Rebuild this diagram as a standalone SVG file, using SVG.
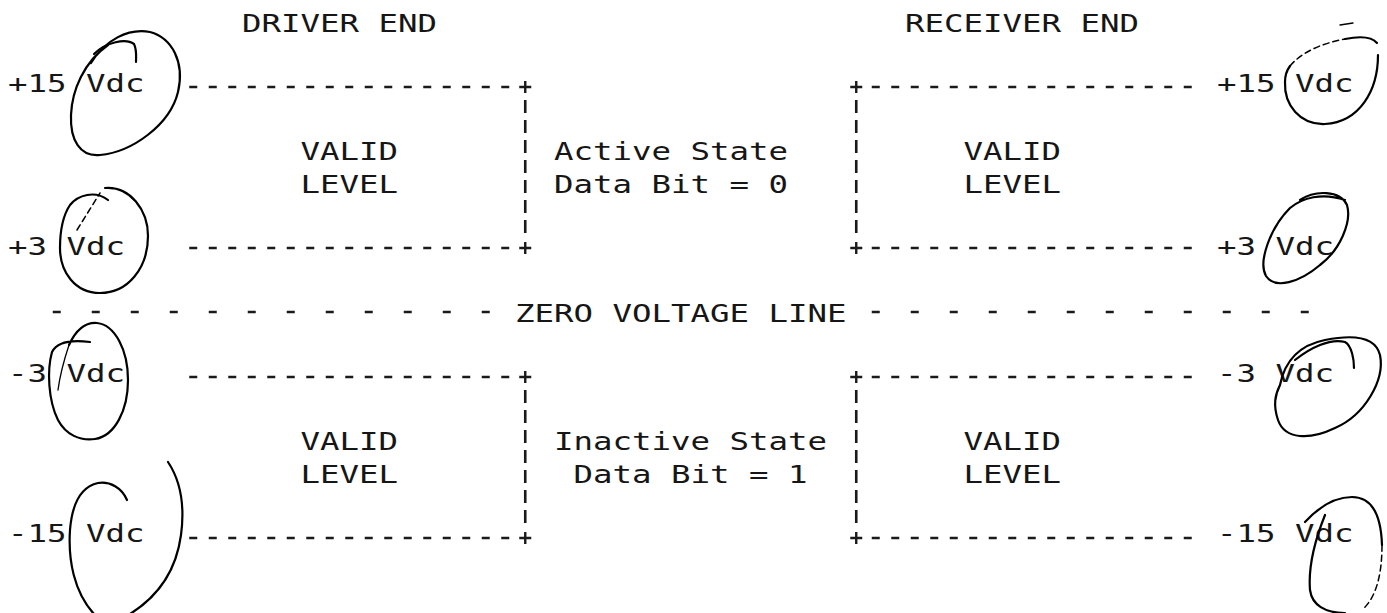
<svg xmlns="http://www.w3.org/2000/svg" width="1387" height="613" viewBox="0 0 1387 613">
<style>
  text { font-family: "DejaVu Sans Mono", "Liberation Mono", monospace; font-size: 25px; fill: #161616; }
  .dash { stroke: #1a1a1a; stroke-width: 2.6; stroke-dasharray: 8 11.5; fill: none; }
  .zero { stroke: #1a1a1a; stroke-width: 2.6; stroke-dasharray: 8 31; fill: none; }
  .vbar { stroke: #1a1a1a; stroke-width: 2.6; stroke-dasharray: 13 7; fill: none; }
  .plus { stroke: #1a1a1a; stroke-width: 2.4; fill: none; }
  .pen { stroke: #000; stroke-width: 2.2; fill: none; stroke-linecap: round; stroke-linejoin: round; }
  .pen-thin { stroke: #000; stroke-width: 1.3; fill: none; stroke-linecap: round; }
  .pen-dash { stroke: #000; stroke-width: 1.5; fill: none; stroke-dasharray: 6 4; stroke-linecap: round; }
</style>
<rect width="1387" height="613" fill="#ffffff"/>

<g id="headers">
  <text x="242" y="32" textLength="195" lengthAdjust="spacingAndGlyphs">DRIVER END</text>
  <text x="905" y="32" textLength="234" lengthAdjust="spacingAndGlyphs">RECEIVER END</text>
</g>

<g id="driver-scale">
  <text x="8" y="92" textLength="58.5" lengthAdjust="spacingAndGlyphs">+15</text>
  <text x="86" y="92" textLength="58.5" lengthAdjust="spacingAndGlyphs">Vdc</text>
  <text x="8" y="255" textLength="39" lengthAdjust="spacingAndGlyphs">+3</text>
  <text x="66.5" y="255" textLength="58.5" lengthAdjust="spacingAndGlyphs">Vdc</text>
  <text x="8" y="382" textLength="39" lengthAdjust="spacingAndGlyphs">-3</text>
  <text x="66.5" y="382" textLength="58.5" lengthAdjust="spacingAndGlyphs">Vdc</text>
  <text x="8" y="542" textLength="58.5" lengthAdjust="spacingAndGlyphs">-15</text>
  <text x="86" y="542" textLength="58.5" lengthAdjust="spacingAndGlyphs">Vdc</text>
</g>

<g id="receiver-scale">
  <text x="1217" y="92" textLength="58.5" lengthAdjust="spacingAndGlyphs">+15</text>
  <text x="1295" y="92" textLength="58.5" lengthAdjust="spacingAndGlyphs">Vdc</text>
  <text x="1217" y="255" textLength="39" lengthAdjust="spacingAndGlyphs">+3</text>
  <text x="1275.5" y="255" textLength="58.5" lengthAdjust="spacingAndGlyphs">Vdc</text>
  <text x="1217" y="382" textLength="39" lengthAdjust="spacingAndGlyphs">-3</text>
  <text x="1275.5" y="382" textLength="58.5" lengthAdjust="spacingAndGlyphs">Vdc</text>
  <text x="1217" y="542" textLength="58.5" lengthAdjust="spacingAndGlyphs">-15</text>
  <text x="1295" y="542" textLength="58.5" lengthAdjust="spacingAndGlyphs">Vdc</text>
</g>

<g id="driver-valid-high">
  <text x="300.5" y="160" textLength="97.5" lengthAdjust="spacingAndGlyphs">VALID</text>
  <text x="300.5" y="193" textLength="97.5" lengthAdjust="spacingAndGlyphs">LEVEL</text>
</g>
<g id="active-state">
  <text x="554" y="160" textLength="234" lengthAdjust="spacingAndGlyphs">Active State</text>
  <text x="554" y="193" textLength="234" lengthAdjust="spacingAndGlyphs">Data Bit = 0</text>
</g>
<g id="receiver-valid-high">
  <text x="963.5" y="160" textLength="97.5" lengthAdjust="spacingAndGlyphs">VALID</text>
  <text x="963.5" y="193" textLength="97.5" lengthAdjust="spacingAndGlyphs">LEVEL</text>
</g>

<g id="zero-line-label">
  <text x="515" y="322" textLength="331.5" lengthAdjust="spacingAndGlyphs">ZERO VOLTAGE LINE</text>
</g>

<g id="driver-valid-low">
  <text x="300.5" y="450" textLength="97.5" lengthAdjust="spacingAndGlyphs">VALID</text>
  <text x="300.5" y="483" textLength="97.5" lengthAdjust="spacingAndGlyphs">LEVEL</text>
</g>
<g id="inactive-state">
  <text x="554" y="450" textLength="273" lengthAdjust="spacingAndGlyphs">Inactive State</text>
  <text x="573.5" y="483" textLength="234" lengthAdjust="spacingAndGlyphs">Data Bit = 1</text>
</g>
<g id="receiver-valid-low">
  <text x="963.5" y="450" textLength="97.5" lengthAdjust="spacingAndGlyphs">VALID</text>
  <text x="963.5" y="483" textLength="97.5" lengthAdjust="spacingAndGlyphs">LEVEL</text>
</g>

<g id="connectors">
  <!-- driver side level lines -->
  <line class="dash" x1="189.25" y1="87" x2="509.25" y2="87"/>
  <line class="dash" x1="189.25" y1="248" x2="509.25" y2="248"/>
  <line class="dash" x1="189.25" y1="377" x2="509.25" y2="377"/>
  <line class="dash" x1="189.25" y1="538" x2="509.25" y2="538"/>
  <!-- receiver side level lines -->
  <line class="dash" x1="871.75" y1="87" x2="1191.75" y2="87"/>
  <line class="dash" x1="871.75" y1="248" x2="1191.75" y2="248"/>
  <line class="dash" x1="871.75" y1="377" x2="1191.75" y2="377"/>
  <line class="dash" x1="871.75" y1="538" x2="1191.75" y2="538"/>
  <!-- zero voltage line -->
  <line class="zero" x1="52.75" y1="312" x2="491" y2="312"/>
  <line class="zero" x1="871.75" y1="312" x2="1310" y2="312"/>
  <!-- vertical bars -->
  <line class="vbar" x1="525.25" y1="100" x2="525.25" y2="238"/>
  <line class="vbar" x1="856.25" y1="100" x2="856.25" y2="238"/>
  <line class="vbar" x1="525.25" y1="390" x2="525.25" y2="528"/>
  <line class="vbar" x1="856.25" y1="390" x2="856.25" y2="528"/>
  <!-- corner plus marks -->
  <path class="plus" d="M519.25,87 h12 M525.25,81 v12"/>
  <path class="plus" d="M519.25,248 h12 M525.25,242 v12"/>
  <path class="plus" d="M519.25,377 h12 M525.25,371 v12"/>
  <path class="plus" d="M519.25,538 h12 M525.25,532 v12"/>
  <path class="plus" d="M850.25,87 h12 M856.25,81 v12"/>
  <path class="plus" d="M850.25,248 h12 M856.25,242 v12"/>
  <path class="plus" d="M850.25,377 h12 M856.25,371 v12"/>
  <path class="plus" d="M850.25,538 h12 M856.25,532 v12"/>
</g>

<g id="hand-annotations">
  <!-- +15 left -->
  <path class="pen" d="M91,63 C105,40 128,28 150,32 C172,38 185,62 178,92 C170,125 132,152 100,155 C80,157 70,140 71,115 C72,90 84,62 108,45"/>
  <path class="pen" d="M94,54 C106,42 126,38 134,44 C137,50 136,56 136,62"/>
  <!-- +3 left -->
  <path class="pen" d="M105,188 C130,186 148,210 148,236 C148,268 128,293 100,293 C75,293 60,272 60,248 C60,228 64,214 70,205 C78,195 95,190 108,200"/>
  <path class="pen-dash" d="M77,230 L100,193"/>
  <!-- -3 left -->
  <path class="pen" d="M90,342 C75,340 58,340 52,352 C47,370 48,400 58,420 C66,435 80,441 95,439 C115,436 128,410 128,380 C128,350 115,325 97,323 C84,322 75,332 69,345"/>
  <path class="pen-thin" d="M69,345 C64,360 60,375 58,390"/>
  <!-- -15 left -->
  <path class="pen" d="M127,500 C122,488 110,481 98,483 C80,487 72,505 70,530 C68,560 74,592 94,614"/>
  <path class="pen" d="M168,462 C180,480 185,505 181,535 C177,565 162,594 130,614"/>
  <!-- +15 right -->
  <path class="pen" d="M1378,55 C1378,90 1360,122 1325,124 C1300,125 1284,105 1285,82 C1285,75 1287,70 1290,66"/>
  <path class="pen-dash" d="M1290,66 C1300,54 1318,44 1345,39"/>
  <path class="pen" d="M1345,39 C1360,36 1372,37 1377,43"/>
  <path class="pen-thin" d="M1340,25 L1353,23"/>
  <!-- +3 right -->
  <path class="pen" d="M1300,200 C1315,190 1340,190 1347,205 C1352,222 1340,250 1320,265 C1300,282 1275,290 1266,276 C1258,262 1270,228 1290,208 C1302,198 1322,192 1345,200"/>
  <!-- -3 right -->
  <path class="pen" d="M1280,385 C1285,360 1300,345 1325,340 C1350,335 1375,335 1380,355 C1385,380 1365,415 1335,428 C1310,440 1285,440 1278,420 C1273,405 1275,395 1280,385"/>
  <path class="pen" d="M1295,360 C1310,348 1330,338 1345,342 C1352,346 1354,360 1354,368"/>
  <!-- -15 right -->
  <path class="pen" d="M1305,522 C1318,508 1335,497 1352,497 C1372,497 1381,515 1382,545"/>
  <path class="pen-dash" d="M1382,545 C1382,575 1376,598 1362,610"/>
  <path class="pen" d="M1325,515 C1315,540 1308,565 1310,590 C1312,605 1325,613 1345,613"/>
</g>
</svg>
